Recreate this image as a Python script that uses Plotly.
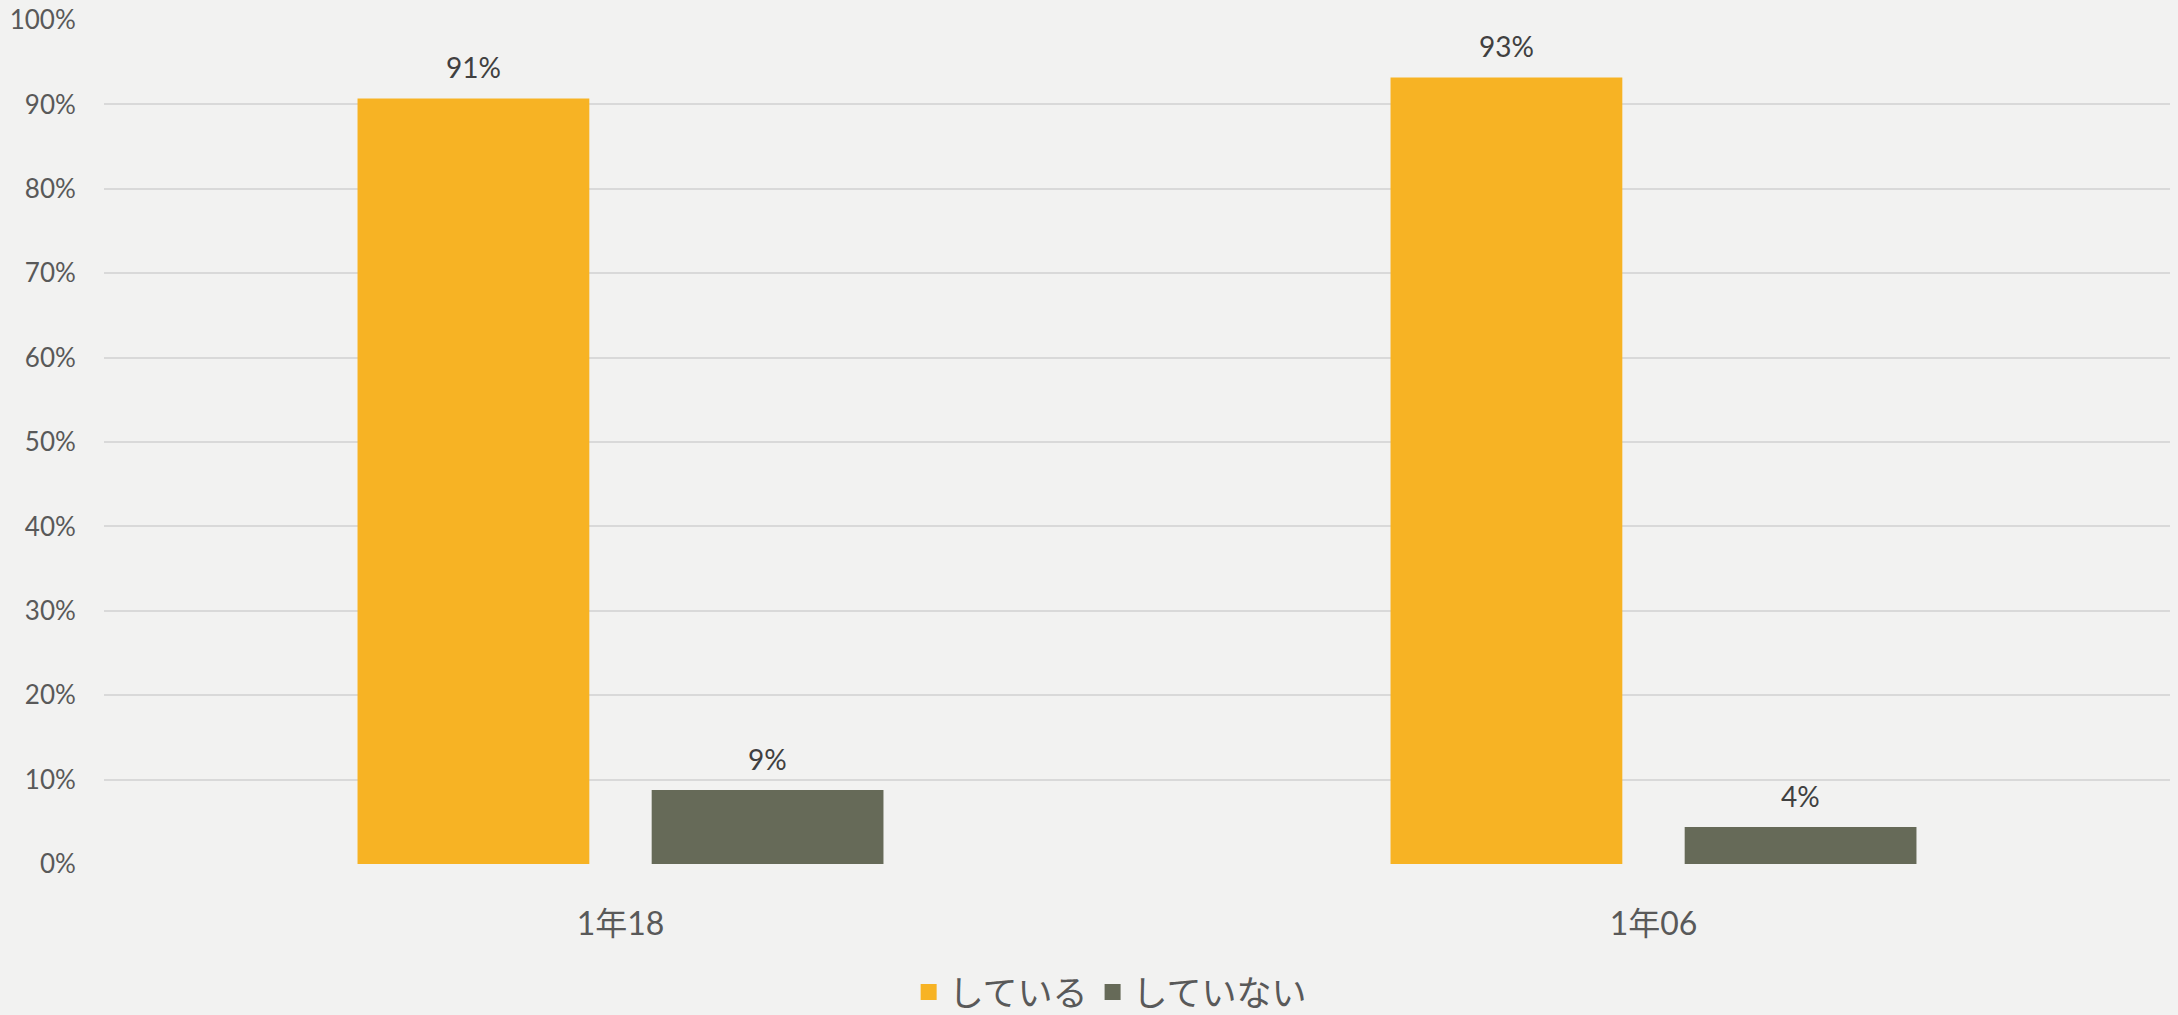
import plotly.graph_objects as go

categories = ["1年18", "1年06"]
series_names = ["している", "していない"]
doing = [0.907, 0.932]
not_doing = [0.0877, 0.0438]
doing_labels = ["91%", "93%"]
not_doing_labels = ["9%", "4%"]
y_ticks = [0, 0.1, 0.2, 0.3, 0.4, 0.5, 0.6, 0.7, 0.8, 0.9, 1.0]
y_tick_labels = ["0%", "10%", "20%", "30%", "40%", "50%", "60%", "70%", "80%", "90%", "100%"]

colors = ["#F7B324", "#666A58"]
FONT = "Lato, 'Noto Sans CJK JP', sans-serif"
BG = "#F2F2F1"

W, H = 2178, 1015
ML, MR, MT, MB = 104, 8, 20, 151
BARGAP, BARGROUPGAP = 0.4305, 0.212
plot_w = W - ML - MR
cat_w = plot_w / len(categories)
slot = cat_w * (1 - BARGAP) / 2

fig = go.Figure()
series = [
    (series_names[0], doing, doing_labels, colors[0], -slot / 2),
    (series_names[1], not_doing, not_doing_labels, colors[1], slot / 2),
]
for name, vals, labels, col, dx in series:
    fig.add_trace(go.Bar(
        name=name, x=categories, y=vals, marker_color=col,
        marker_line_width=0, showlegend=False,
    ))
    for c, v, t in zip(categories, vals, labels):
        fig.add_annotation(x=c, y=v, text=t, showarrow=False, xshift=dx,
                           yanchor="bottom", yshift=12,
                           font=dict(family=FONT, size=28, color="#404040"))
# legend proxies with larger square symbols
for name, _, _, col, _ in series:
    fig.add_trace(go.Scatter(
        name=name, x=[None], y=[None], mode="markers",
        marker=dict(symbol="square", size=20, color=col), showlegend=True,
    ))

fig.update_layout(
    width=W, height=H,
    paper_bgcolor=BG, plot_bgcolor=BG,
    margin=dict(l=ML, r=MR, t=MT, b=MB, autoexpand=False),
    barmode="group", bargap=BARGAP, bargroupgap=BARGROUPGAP,
    font=dict(family=FONT, color="#595959"),
    legend=dict(orientation="h", x=0.487, xanchor="center", y=-0.152, yanchor="middle",
                font=dict(family=FONT, size=35, color="#595959"),
                bgcolor="rgba(0,0,0,0)", itemwidth=30, tracegroupgap=0),
)
fig.update_xaxes(
    tickfont=dict(family=FONT, size=32, color="#595959"),
    ticks="outside", ticklen=32, tickcolor="rgba(0,0,0,0)",
    showgrid=False, zeroline=False, showline=False,
)
fig.update_yaxes(
    range=[0, 1], tickvals=y_ticks, ticktext=y_tick_labels,
    tickfont=dict(family=FONT, size=26, color="#595959"),
    ticks="outside", ticklen=22, tickcolor="rgba(0,0,0,0)",
    showgrid=True, gridcolor="#D9D9D9", gridwidth=2,
    zeroline=False, showline=False,
)

fig.write_html("out.html", config={"displayModeBar": False},
               post_script="document.body.style.margin='0';document.body.style.overflow='hidden';")
